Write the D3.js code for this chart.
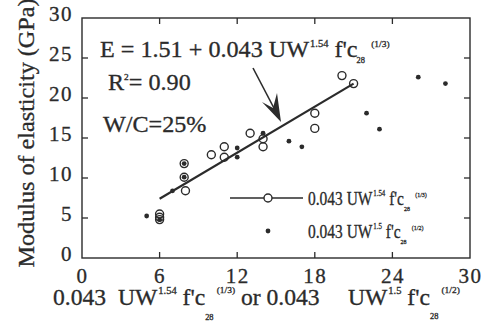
<!DOCTYPE html>
<html><head><meta charset="utf-8">
<script src="https://cdn.jsdelivr.net/npm/d3@7"></script>
<style>
html,body{margin:0;padding:0;background:#fff;}
svg{display:block;}
text{white-space:pre;}
</style></head>
<body>
<svg id="c" width="488" height="323"></svg>
<script>
// ---- data ----
const xTicks = [0, 6, 12, 18, 24, 30];
const yTicks = [0, 5, 10, 15, 20, 25, 30];
// series 1: 0.043 UW^1.54 fc28^(1/3)  (open circles)
const openX = [6, 6, 6, 8, 7.9, 7.9, 10, 11, 11, 13, 14, 14, 18, 18, 20.1, 21];
const openY = [5.5, 5.1, 4.8, 8.4, 10.1, 11.8, 12.9, 12.6, 13.9, 15.6, 14.9, 13.9, 18.1, 16.2, 22.8, 21.8];
// series 2: 0.043 UW^1.5 fc28^(1/2)  (small dots)
const dotX = [5, 6, 7, 7.9, 7.9, 12, 12, 14, 16, 17, 22, 23, 26, 28.1];
const dotY = [5.25, 4.8, 8.4, 10.1, 11.8, 13.75, 12.6, 15.6, 14.6, 13.9, 18.1, 16.1, 22.6, 21.8];
// regression line (series 1)
const fitX = [6, 21];
const fitY = [7.4, 21.8];

const FONT = '"Liberation Serif", "Times New Roman", serif';
const kx = 1.05; // slight horizontal stretch of the scanned lettering

const ink = "#2b2b2b";
const svg = d3.select("#c");
const L = 82, R = 470, T = 18, B = 258;
const x = d3.scaleLinear().domain([0, 30]).range([L, R]);
const y = d3.scaleLinear().domain([0, 30]).range([B, T]);

// frame
svg.append("rect").attr("x", L).attr("y", T).attr("width", R - L).attr("height", B - T)
  .attr("fill", "none").attr("stroke", ink).attr("stroke-width", 1.4);

// axes (labels only) + inward ticks on all four sides
const gx = svg.append("g").attr("transform", `translate(0,${B})`)
  .call(d3.axisBottom(x).tickValues(xTicks).tickSize(0).tickFormat(d3.format("d")));
const gy = svg.append("g").attr("transform", `translate(${L},0)`)
  .call(d3.axisLeft(y).tickValues(yTicks).tickSize(0).tickFormat(d3.format("d")));
[gx, gy].forEach(g => {
  g.select(".domain").remove();
  g.attr("font-family", FONT);
  g.selectAll("text").attr("font-size", 21).attr("fill", ink).attr("font-family", FONT)
   .attr("letter-spacing", 1.5).attr("stroke", ink).attr("stroke-width", 0.3);
});
gx.selectAll("text").attr("y", 10).attr("dy", "0.71em");
gy.selectAll("text").attr("x", -9).attr("y", -4).attr("dy", "0.32em");

const tk = 6;
const inner = v => v > 0 && v < 30;
const tickG = svg.append("g").attr("stroke", ink).attr("stroke-width", 1.3);
xTicks.filter(inner).forEach(v => {
  tickG.append("line").attr("x1", x(v)).attr("x2", x(v)).attr("y1", B).attr("y2", B - tk);
  tickG.append("line").attr("x1", x(v)).attr("x2", x(v)).attr("y1", T).attr("y2", T + tk);
});
yTicks.filter(inner).forEach(v => {
  tickG.append("line").attr("y1", y(v)).attr("y2", y(v)).attr("x1", L).attr("x2", L + tk);
  tickG.append("line").attr("y1", y(v)).attr("y2", y(v)).attr("x1", R).attr("x2", R - tk);
});

// rich text helper (sub/superscripts via tspans), horizontally scaled
function rich(g, px, py, parts, rot, sx) {
  const gg = g.append("g").attr("transform", `translate(${px},${py})` + (rot ? ` rotate(${rot})` : "") + ` scale(${sx || kx},1)`);
  const t = gg.append("text").attr("x", 0).attr("y", 0).attr("font-family", FONT)
    .attr("fill", ink).attr("stroke", ink).attr("stroke-width", 0.3);
  parts.forEach(p => {
    const s = t.append("tspan").text(p.t).attr("font-size", p.s);
    if (p.dy) s.attr("dy", p.dy);
    if (p.dx) s.attr("dx", p.dx);
  });
  return t;
}

// regression line
svg.append("path").datum(fitX.map((v, i) => [v, fitY[i]]))
  .attr("d", d3.line().x(d => x(d[0])).y(d => y(d[1])))
  .attr("stroke", ink).attr("stroke-width", 2.2).attr("fill", "none");

// dots
svg.append("g").selectAll("circle").data(dotX).join("circle")
  .attr("cx", d => x(d)).attr("cy", (d, i) => y(dotY[i])).attr("r", 2.4).attr("fill", ink);
// open circles
svg.append("g").selectAll("circle").data(openX).join("circle")
  .attr("cx", d => x(d)).attr("cy", (d, i) => y(openY[i])).attr("r", 4)
  .attr("fill", "none").attr("stroke", ink).attr("stroke-width", 1.4);

// annotations
const a = svg.append("g");
rich(a, 100, 57, [
  {t: "E = 1.51 + 0.043 UW", s: 23},
  {t: "1.54", s: 10, dy: -10, dx: 1},
  {t: " f'c", s: 23, dy: 10},
  {t: "28", s: 8, dy: 6, dx: -1},
  {t: "(1/3)", s: 9, dy: -16, dx: 6}
]);
rich(a, 108, 90, [
  {t: "R", s: 23},
  {t: "2", s: 9, dy: -10},
  {t: "= 0.90", s: 23, dy: 10}
]);
rich(a, 103, 132, [{t: "W/C=25%", s: 23}]);

// arrow
a.append("line").attr("x1", 253).attr("y1", 68).attr("x2", 276).attr("y2", 112)
  .attr("stroke", ink).attr("stroke-width", 1.6);
a.append("path").attr("d", "M281,122 L262,102 L273,108 L277,93 Z").attr("fill", ink);

// legend
const lg = svg.append("g");
lg.append("line").attr("x1", 230).attr("x2", 303).attr("y1", 198).attr("y2", 198)
  .attr("stroke", ink).attr("stroke-width", 1.6);
lg.append("circle").attr("cx", 268).attr("cy", 198).attr("r", 4).attr("fill", "#fff")
  .attr("stroke", ink).attr("stroke-width", 1.4);
lg.append("circle").attr("cx", 268).attr("cy", 231).attr("r", 2.4).attr("fill", ink);
const lsx = 0.86;
rich(lg, 308, 205, [
  {t: "0.043 UW", s: 18},
  {t: "1.54", s: 8, dy: -9, dx: 1},
  {t: " f'c", s: 18, dy: 9},
  {t: "28", s: 7, dy: 6},
  {t: "(1/3)", s: 7, dy: -14, dx: 6}
], 0, lsx);
rich(lg, 308, 238, [
  {t: "0.043 UW", s: 18},
  {t: "1.5", s: 8, dy: -9, dx: 1},
  {t: " f'c", s: 18, dy: 9},
  {t: "28", s: 7, dy: 6},
  {t: "(1/2)", s: 7, dy: -14, dx: 6}
], 0, lsx);

// axis titles
rich(svg, 53, 305, [
  {t: "0.043  UW", s: 22.5},
  {t: "1.54", s: 10, dy: -11, dx: 1},
  {t: " f'c", s: 22.5, dy: 11},
  {t: "28", s: 8, dy: 15},
  {t: "(1/3)", s: 9, dy: -27, dx: 3},
  {t: " or 0.043", s: 22.5, dy: 12},
  {t: "UW", s: 22.5, dx: 27},
  {t: "1.5", s: 10, dy: -11, dx: 1},
  {t: " f'c", s: 22.5, dy: 11},
  {t: "28", s: 8, dy: 14},
  {t: "(1/2)", s: 9, dy: -26, dx: 3}
]);
rich(svg, 34, 133, [{t: "Modulus of elasticity (GPa)", s: 23}], -90)
  .attr("text-anchor", "middle");
</script>
</body></html>
